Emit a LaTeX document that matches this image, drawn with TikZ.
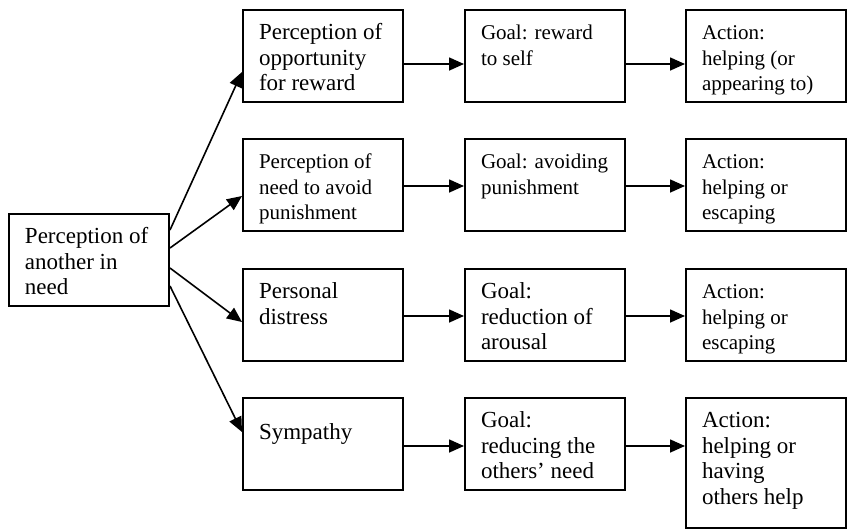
\documentclass[tikz,border=0pt]{standalone}
\usepackage{fontspec}
\setmainfont{Liberation Serif}
\usetikzlibrary{arrows.meta}
\newcommand{\bigf}{\fontsize{23pt}{25.7pt}\selectfont}
\newcommand{\smlf}{\fontsize{21pt}{25.7pt}\selectfont}
% #1 height, #2 font, #3 first-baseline strut, #4 text
\newcommand{\bt}[4]{\parbox[c][#1][t]{160pt}{#2\raggedright\leftskip=16pt\rule{0pt}{#3}#4}}
\tikzset{
  box/.style={draw, line width=2pt, inner sep=0pt, anchor=north west},
  arr/.style={line width=1.6pt, -{Triangle[length=15pt,width=13pt]}}
}
\begin{document}
\begin{tikzpicture}[x=1pt,y=-1pt]
\useasboundingbox (0,0) rectangle (848,528);
% left
\node[box] (L) at (8,213) {\bt{92pt}{\bigf}{29.5pt}{Perception of\\another in\\need}};
% column 2
\node[box] (A1) at (242,9)   {\bt{92pt}{\bigf}{29.5pt}{Perception of\\opportunity\\for reward}};
\node[box] (A2) at (242,138) {\bt{92pt}{\smlf}{29.5pt}{Perception of\\need to avoid\\punishment}};
\node[box] (A3) at (242,268) {\bt{92pt}{\bigf}{29.5pt}{Personal\\distress}};
\node[box] (A4) at (242,397) {\bt{92pt}{\bigf}{41pt}{Sympathy}};
% column 3
\node[box] (B1) at (464,9)   {\bt{92pt}{\smlf}{29.5pt}{Goal: reward\\to self}};
\node[box] (B2) at (464,138) {\bt{92pt}{\smlf}{29.5pt}{Goal: avoiding\\punishment}};
\node[box] (B3) at (464,268) {\bt{92pt}{\bigf}{29.5pt}{Goal:\\reduction of\\arousal}};
\node[box] (B4) at (464,397) {\bt{92pt}{\bigf}{29.5pt}{Goal:\\reducing the\\others’ need}};
% column 4
\node[box] (C1) at (685,9)   {\bt{92pt}{\smlf}{29.5pt}{Action:\\helping (or\\appearing to)}};
\node[box] (C2) at (685,138) {\bt{92pt}{\smlf}{29.5pt}{Action:\\helping or\\escaping}};
\node[box] (C3) at (685,268) {\bt{92pt}{\smlf}{29.5pt}{Action:\\helping or\\escaping}};
\node[box] (C4) at (685,397) {\bt{130pt}{\bigf}{29.5pt}{Action:\\helping or\\having\\others help}};
% fan arrows
\draw[arr] ([yshift=-17pt]L.north east) -- ([yshift=-63pt]A1.north west);
\draw[arr] ([yshift=-35pt]L.north east) -- ([yshift=-58pt]A2.north west);
\draw[arr] ([yshift=-55pt]L.north east) -- ([yshift=-54pt]A3.north west);
\draw[arr] ([yshift=-73pt]L.north east) -- ([yshift=-35pt]A4.north west);
% horizontal arrows
\draw[arr] ([yshift=-55pt]A1.north east) -- ([yshift=-55pt]B1.north west);
\draw[arr] ([yshift=-55pt]B1.north east) -- ([yshift=-55pt]C1.north west);
\draw[arr] ([yshift=-48pt]A2.north east) -- ([yshift=-48pt]B2.north west);
\draw[arr] ([yshift=-48pt]B2.north east) -- ([yshift=-48pt]C2.north west);
\draw[arr] ([yshift=-48pt]A3.north east) -- ([yshift=-48pt]B3.north west);
\draw[arr] ([yshift=-48pt]B3.north east) -- ([yshift=-48pt]C3.north west);
\draw[arr] ([yshift=-49pt]A4.north east) -- ([yshift=-49pt]B4.north west);
\draw[arr] ([yshift=-49pt]B4.north east) -- ([yshift=-49pt]C4.north west);
\end{tikzpicture}
\end{document}
